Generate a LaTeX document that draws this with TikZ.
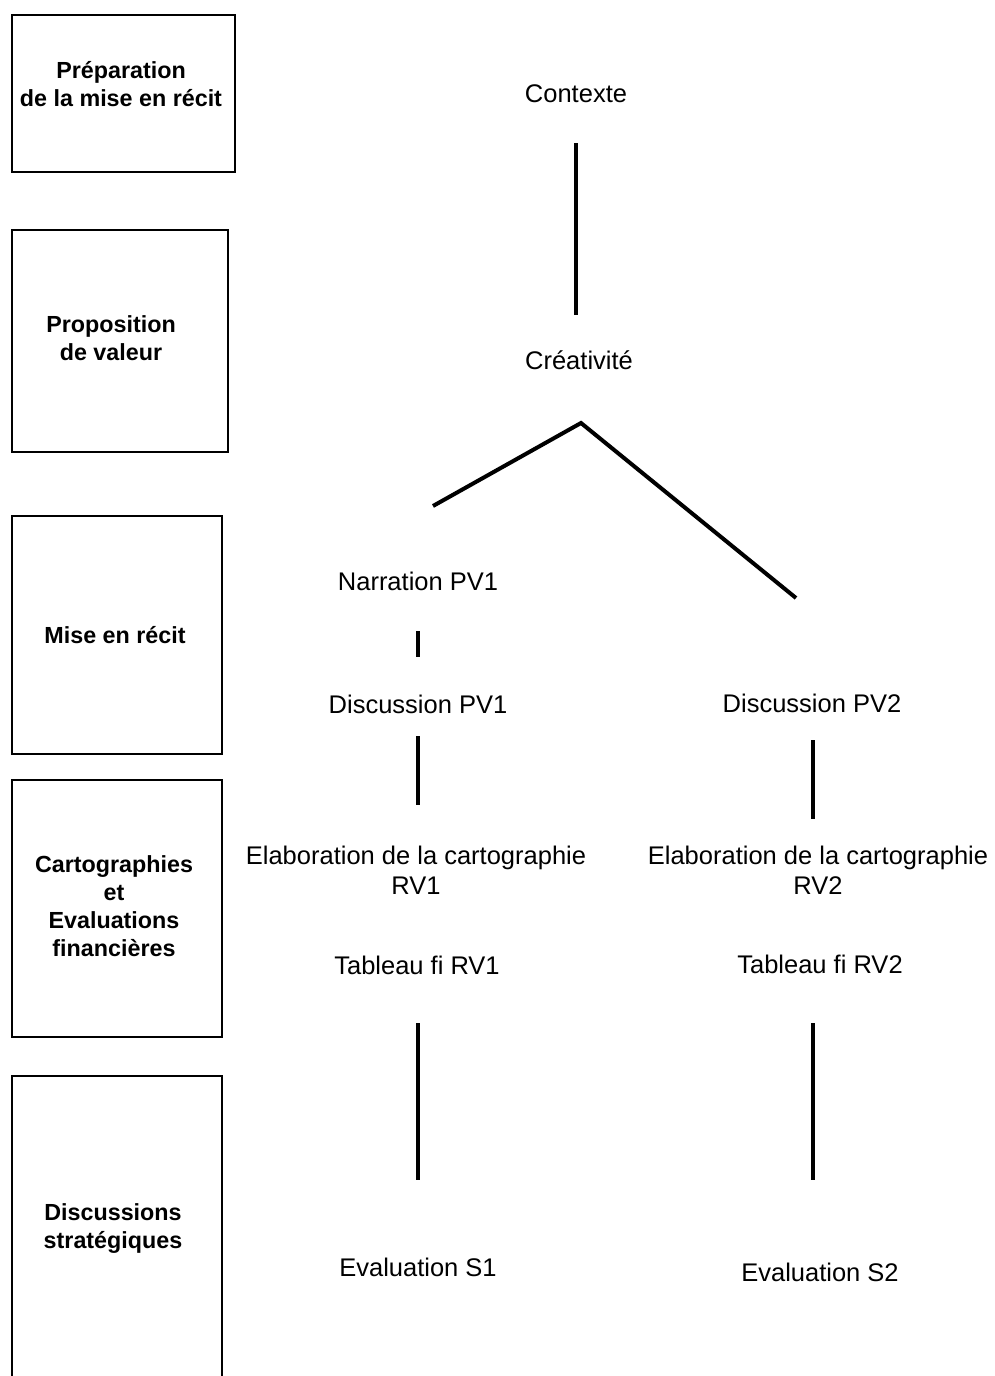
\documentclass[tikz,border=0pt]{standalone}
\usepackage{fontspec}
\setmainfont{Liberation Sans}
\begin{document}
\begin{tikzpicture}[x=1pt,y=-1pt,
  box/.style={draw, line width=2pt},
  cat/.style={font=\bfseries\fontsize{23.3}{28}\selectfont, align=center, inner sep=0pt, anchor=base},
  lbl/.style={font=\fontsize{25.5}{30.5}\selectfont, inner sep=0pt, anchor=base, text height=19pt, text depth=6pt},
  multi/.style={font=\fontsize{25.5}{30.5}\selectfont, align=center, inner sep=0pt, anchor=base},
  conn/.style={line width=4pt}]
\useasboundingbox (0,0) rectangle (994,1376);
\fill[white] (0,0) rectangle (994,1376);

% left column boxes
\draw[box] (12,15) rectangle (235,172);
\draw[box] (12,230) rectangle (228,452);
\draw[box] (12,516) rectangle (222,754);
\draw[box] (12,780) rectangle (222,1037);
\draw[box] (12,1380) -- (12,1076) -- (222,1076) -- (222,1380);

% (base anchor of a multi-line node = baseline of its last line)
\node[cat] (c1) at (121,106) {Préparation\\de la mise en récit};
\node[cat] (c2) at (111,360) {Proposition\\de valeur};
\node[cat] (c3) at (115,643) {Mise en récit};
\node[cat] (c4) at (114,956) {Cartographies\\et\\Evaluations\\financières};
\node[cat] (c5) at (113,1248) {Discussions\\stratégiques};

% right column
\node[lbl] (ctx) at (576,102) {Contexte};
\node[lbl] (cre) at (579,369) {Créativité};
\node[lbl] (narr) at (418,590) {Narration PV1};
\node[lbl] (dis1) at (418,713) {Discussion PV1};
\node[lbl] (dis2) at (812,712) {Discussion PV2};
\node[multi] (elab1) at (416,894.5) {Elaboration de la cartographie\\RV1};
\node[multi] (elab2) at (818,894.5) {Elaboration de la cartographie\\RV2};
\node[lbl] (tab1) at (417,974) {Tableau fi RV1};
\node[lbl] (tab2) at (820,973) {Tableau fi RV2};
\node[lbl] (ev1) at (418,1276) {Evaluation S1};
\node[lbl] (ev2) at (820,1281) {Evaluation S2};

\coordinate (vl) at (433,506);
\coordinate (apex) at (581,423);
\coordinate (vr) at (796,598);

% connectors
\draw[conn, shorten <=35pt, shorten >=35pt] (ctx.south) -- (ctx.south |- cre.north);
\draw[conn, line join=miter] (vl) -- (apex) -- (vr);
\draw[conn, shorten <=35pt, shorten >=37pt] (narr.south) -- (dis1.north);
\draw[conn, shorten <=17pt, shorten >=40pt] (dis1.south) -- (dis1.south |- elab1.north);
\draw[conn, shorten <=22pt, shorten >=26pt] ([xshift=1pt]dis2.south) -- ([xshift=1pt]dis2.south |- elab2.north);
\draw[conn, shorten <=43pt, shorten >=77pt] (ev1.north |- tab1.south) -- (ev1.north);
\draw[conn, shorten <=44pt, shorten >=82pt] ([xshift=-7pt]tab2.south) -- ([xshift=-7pt]tab2.south |- ev2.north);
\end{tikzpicture}
\end{document}
